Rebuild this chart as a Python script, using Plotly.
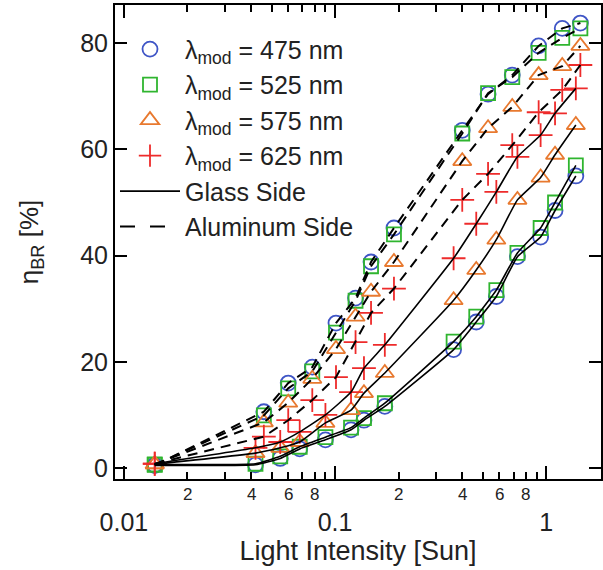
import math
import plotly.graph_objects as go

# Light intensity (Sun) for each measurement, glass-side and aluminum-side illumination
intensity_glass = [0.014, 0.042, 0.055, 0.068, 0.090, 0.119, 0.137, 0.172,
                   0.364, 0.466, 0.580, 0.730, 0.940, 1.10, 1.38]
intensity_al = [0.014, 0.046, 0.060, 0.078, 0.101, 0.125, 0.148, 0.190,
                0.400, 0.530, 0.690, 0.920, 1.19, 1.45]

# eta_BR [%] under glass-side illumination
glass_475 = [0.5, 0.6, 1.8, 3.6, 5.3, 7.2, 9.0, 11.6, 22.3, 27.5, 32.3, 39.8, 43.5, 48.5, 55.0]
glass_525 = [0.7, 0.8, 2.2, 4.0, 5.8, 7.6, 9.4, 12.2, 23.8, 28.5, 33.5, 40.5, 45.2, 50.0, 57.0]
glass_575 = [0.7, 2.8, 3.8, 4.9, 8.5, 10.9, 14.1, 17.9, 31.6, 37.3, 43.0, 50.5, 54.7, 59.0, 64.6]
glass_625 = [0.8, 3.8, 4.9, 6.8, 10.0, 14.3, 18.8, 23.2, 39.5, 46.0, 52.0, 58.6, 62.7, 66.8, 71.5]

# eta_BR [%] under aluminum-side illumination
al_475 = [0.5, 10.6, 16.0, 19.0, 27.3, 32.0, 38.8, 45.2, 63.6, 70.4, 74.0, 79.5, 82.8, 83.8]
al_525 = [0.6, 9.9, 15.0, 18.2, 25.5, 31.5, 38.0, 44.0, 63.0, 70.6, 73.6, 78.2, 81.0, 82.8]
al_575 = [0.7, 8.6, 12.3, 16.8, 22.4, 28.5, 33.2, 38.8, 57.8, 64.0, 68.0, 74.0, 75.7, 79.5]
al_625 = [0.8, 5.9, 9.0, 12.8, 17.1, 23.7, 29.2, 33.8, 50.5, 55.4, 60.8, 67.0, 71.2, 75.9]

wavelengths = ["475", "525", "575", "625"]
colors = ["#3f55c6", "#2fb52f", "#e8792f", "#ee2b2b"]
symbols = ["circle-open", "square-open", "triangle-up-open", "cross-thin-open"]
sizes = [15, 14, 16, 17]

glass_sets = [glass_475, glass_525, glass_575, glass_625]
al_sets = [al_475, al_525, al_575, al_625]

# decade ticks: majors are labelled large, even minors get small digits
major_vals = [0.01, 0.1, 1]
major_text = ["0.01", "0.1", "1"]
minor_vals = [0.02, 0.03, 0.04, 0.05, 0.06, 0.07, 0.08, 0.09,
              0.2, 0.3, 0.4, 0.5, 0.6, 0.7, 0.8, 0.9]
minor_label_vals = [0.02, 0.04, 0.06, 0.08, 0.2, 0.4, 0.6, 0.8]
minor_label_text = ["2", "4", "6", "8", "2", "4", "6", "8"]

FONT = "Arial, 'Liberation Sans', sans-serif"
INK = "#222222"

fig = go.Figure()

# measured points (drawn first so the black lines sit on top)
for vals_g, vals_a, c, s, sz in zip(glass_sets, al_sets, colors, symbols, sizes):
    for xs, ys in ((intensity_glass, vals_g), (intensity_al, vals_a)):
        fig.add_trace(go.Scatter(
            x=xs, y=ys, mode="markers", showlegend=False,
            marker=dict(symbol=s, size=sz, color=c, line=dict(width=1.8, color=c)),
        ))

# connecting lines: solid = glass side, dashed = aluminum side
for vals_g, vals_a in zip(glass_sets, al_sets):
    fig.add_trace(go.Scatter(
        x=intensity_glass, y=vals_g, mode="lines", showlegend=False,
        line=dict(color="black", width=1.6, shape="spline", smoothing=0.4),
    ))
    fig.add_trace(go.Scatter(
        x=intensity_al, y=vals_a, mode="lines", showlegend=False,
        line=dict(color="black", width=2, dash="10px,7px"),
    ))

# legend entries
for w, c, s, sz in zip(wavelengths, colors, symbols, sizes):
    fig.add_trace(go.Scatter(
        x=[None], y=[None], mode="markers",
        name=f"λ<sub>mod</sub> = {w} nm",
        marker=dict(symbol=s, size=sz, color=c, line=dict(width=1.8, color=c)),
    ))
fig.add_trace(go.Scatter(x=[None], y=[None], mode="lines", name="Glass Side",
                         line=dict(color="black", width=1.6)))
fig.add_trace(go.Scatter(x=[None], y=[None], mode="lines", name="Aluminum Side",
                         line=dict(color="black", width=2, dash="15px,15px")))

# small digits under the minor ticks
for v, t in zip(minor_label_vals, minor_label_text):
    fig.add_annotation(
        x=math.log10(v), y=-0.032, xref="x", yref="paper",
        text=t, showarrow=False, xanchor="center", yanchor="middle",
        font=dict(size=17, family=FONT, color=INK),
    )

x_range = [-2.042, 0.259]

fig.update_layout(
    width=603, height=570,
    margin=dict(l=115, r=0, t=5, b=91),
    paper_bgcolor="white", plot_bgcolor="white",
    font=dict(family=FONT, color=INK),
    showlegend=True,
    legend=dict(
        x=0.0, y=0.955, xanchor="left", yanchor="top",
        bgcolor="rgba(0,0,0,0)", font=dict(size=25, family=FONT, color=INK),
        itemwidth=60, tracegroupgap=0,
    ),
    xaxis=dict(
        type="log", range=x_range,
        tickvals=major_vals, ticktext=major_text,
        tickfont=dict(size=25, family=FONT, color=INK),
        ticks="inside", ticklen=13, tickwidth=1.5, tickcolor="black",
        ticklabelstandoff=20,
        minor=dict(tickvals=minor_vals, ticks="inside", ticklen=7,
                   tickwidth=1.5, tickcolor="black", showgrid=False),
        showline=True, linewidth=2, linecolor="black", mirror="allticks",
        showgrid=False, zeroline=False,
        title=dict(text="Light Intensity [Sun]", font=dict(size=27, family=FONT, color=INK),
                   standoff=2),
    ),
    yaxis=dict(
        range=[-2.07, 87.2],
        tickvals=[0, 20, 40, 60, 80],
        tickfont=dict(size=25, family=FONT, color=INK),
        ticks="inside", ticklen=12, tickwidth=1.5, tickcolor="black",
        showline=True, linewidth=2, linecolor="black", mirror="ticks",
        showgrid=False, zeroline=False,
        title=dict(text="η<sub>BR</sub> [%]", font=dict(size=26, family=FONT, color=INK),
                   standoff=34),
    ),
)

fig.write_html("out.html")
